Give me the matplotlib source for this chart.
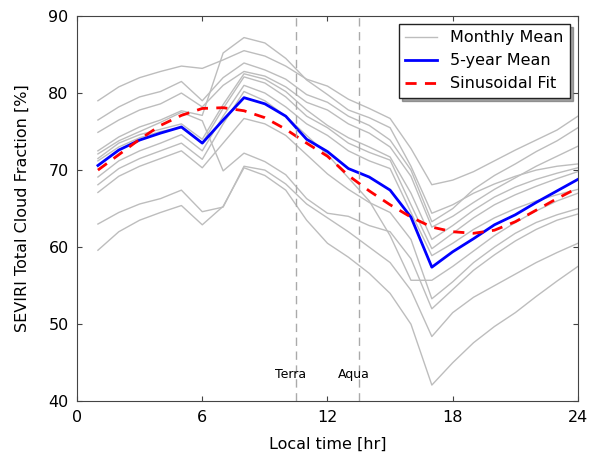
import matplotlib as mpl
mpl.use('Agg')
import matplotlib.pyplot as plt

hours = list(range(1, 25))

# monthly mean curves
month_a = [79.0, 80.8, 82.0, 82.8, 83.5, 83.2, 84.3, 85.5, 84.8, 83.5, 81.8, 80.9,
           79.2, 78.0, 76.7, 72.8, 68.1, 68.7, 69.8, 71.2, 72.6, 73.9, 75.2, 77.0]
month_b = [72.5, 74.3, 75.6, 76.5, 77.7, 77.1, 85.2, 87.2, 86.5, 84.5, 81.7, 79.8,
           77.8, 76.8, 75.5, 70.5, 64.4, 65.5, 67.0, 68.2, 69.2, 70.0, 70.5, 70.8]
month_c = [76.5, 78.2, 79.5, 80.2, 81.5, 79.0, 82.0, 83.9, 83.0, 81.8, 79.8, 78.8,
           77.0, 75.8, 73.9, 70.0, 63.3, 65.0, 67.5, 69.3, 70.8, 72.4, 73.8, 75.5]
month_d = [74.9, 76.5, 77.8, 78.6, 80.0, 78.2, 81.0, 82.8, 82.2, 80.8, 78.8, 77.8,
           76.0, 74.8, 73.0, 69.2, 62.6, 64.0, 65.8, 67.5, 69.0, 70.5, 71.8, 73.1]
month_e = [71.5, 73.5, 74.6, 75.3, 76.0, 74.0, 78.5, 82.5, 81.8, 80.2, 77.8, 75.8,
           74.2, 73.0, 71.7, 67.0, 61.0, 62.8, 64.8, 66.5, 67.8, 68.8, 69.6, 70.3]
month_f = [71.2, 73.0, 74.2, 75.0, 75.5, 73.5, 78.0, 82.1, 81.3, 79.5, 77.0, 75.5,
           73.5, 72.3, 71.3, 65.5, 59.8, 61.8, 63.8, 65.5, 66.8, 67.9, 68.9, 69.8]
month_g = [69.1, 71.2, 72.5, 73.5, 74.6, 72.5, 77.0, 81.0, 80.0, 78.2, 76.0, 74.5,
           72.5, 71.2, 70.2, 64.5, 58.9, 60.5, 62.3, 63.8, 65.0, 66.0, 66.8, 67.5]
month_h = [68.1, 70.2, 71.5, 72.5, 73.5, 71.4, 76.0, 80.2, 79.0, 77.0, 74.5, 72.0,
           69.0, 66.0, 61.5, 55.7, 55.7, 57.5, 59.5, 61.5, 63.2, 64.7, 66.0, 67.0]
month_i = [67.1, 69.2, 70.5, 71.5, 72.5, 70.3, 73.5, 76.7, 76.0, 74.5, 72.0, 69.5,
           67.5, 65.8, 64.5, 61.0, 53.3, 55.5, 58.0, 60.0, 61.8, 63.2, 64.2, 65.0]
month_j = [72.1, 73.8, 75.0, 76.2, 77.5, 76.4, 69.9, 72.2, 71.1, 69.4, 66.3, 64.4,
           64.0, 62.8, 62.0, 58.5, 52.0, 54.5, 57.0, 59.0, 60.8, 62.3, 63.5, 64.3]
month_k = [63.0, 64.5, 65.6, 66.3, 67.4, 64.6, 65.2, 70.5, 70.0, 68.2, 65.6, 63.8,
           62.0, 60.0, 58.0, 54.4, 48.4, 51.5, 53.5, 55.0, 56.5, 58.0, 59.3, 60.5]
month_l = [59.6, 62.0, 63.5, 64.5, 65.4, 62.9, 65.3, 70.3, 69.3, 67.4, 63.5, 60.5,
           58.7, 56.6, 54.0, 50.0, 42.1, 45.0, 47.6, 49.7, 51.5, 53.6, 55.6, 57.5]
monthly = [month_a, month_b, month_c, month_d, month_e, month_f,
           month_g, month_h, month_i, month_j, month_k, month_l]

mean5yr = [70.6, 72.6, 73.9, 74.8, 75.6, 73.5, 76.5, 79.4, 78.6, 77.0, 74.0, 72.4,
           70.2, 69.1, 67.4, 63.9, 57.4, 59.4, 61.1, 62.9, 64.2, 65.8, 67.3, 68.8]
sinefit = [70.0, 72.0, 74.0, 75.8, 77.1, 78.0, 78.1, 77.7, 76.8, 75.3, 73.5, 71.8,
           69.3, 67.3, 65.5, 63.9, 62.6, 62.0, 61.8, 62.2, 63.3, 64.8, 66.3, 67.7]

overpass_names = ['Terra', 'Aqua']
overpass_times = [10.5, 13.5]

fig = plt.figure(figsize=(6.02, 4.57), dpi=100)
ax = fig.add_axes([0.128, 0.122, 0.832, 0.843])

for i, m in enumerate(monthly):
    ax.plot(hours, m, color='#bdbdbd', lw=1.0,
            label='Monthly Mean' if i == 0 else None)
ax.plot(hours, mean5yr, color='#0000ff', lw=2.0, label='5-year Mean')
ax.plot(hours, sinefit, color='#ff0000', lw=2.0, ls='--', dashes=(4, 3),
        label='Sinusoidal Fit')

for name, t in zip(overpass_names, overpass_times):
    ax.axvline(t, color='#aaaaaa', lw=1.0, ls='--', dashes=(6, 4))
    ax.text(t - 0.25, 43.5, name, ha='center', va='center', fontsize=9)

ax.set_xlim(0, 24)
ax.set_ylim(40, 90)
ax.set_xticks([0, 6, 12, 18, 24])
ax.set_yticks([40, 50, 60, 70, 80, 90])
ax.tick_params(direction='in', top=True, right=True, labelsize=11.5,
               length=3.5, pad=6, color='#444444')
for s in ax.spines.values():
    s.set_color('#444444')
ax.set_xlabel('Local time [hr]', fontsize=11.5, labelpad=9)
ax.set_ylabel('SEVIRI Total Cloud Fraction [%]', fontsize=11.5, labelpad=13)

leg = ax.legend(loc='upper right', fontsize=11.5, fancybox=False, shadow=True,
                framealpha=1, borderaxespad=0.5)
leg.get_frame().set_edgecolor('#222222')

plt.savefig('out.png', dpi=100)
